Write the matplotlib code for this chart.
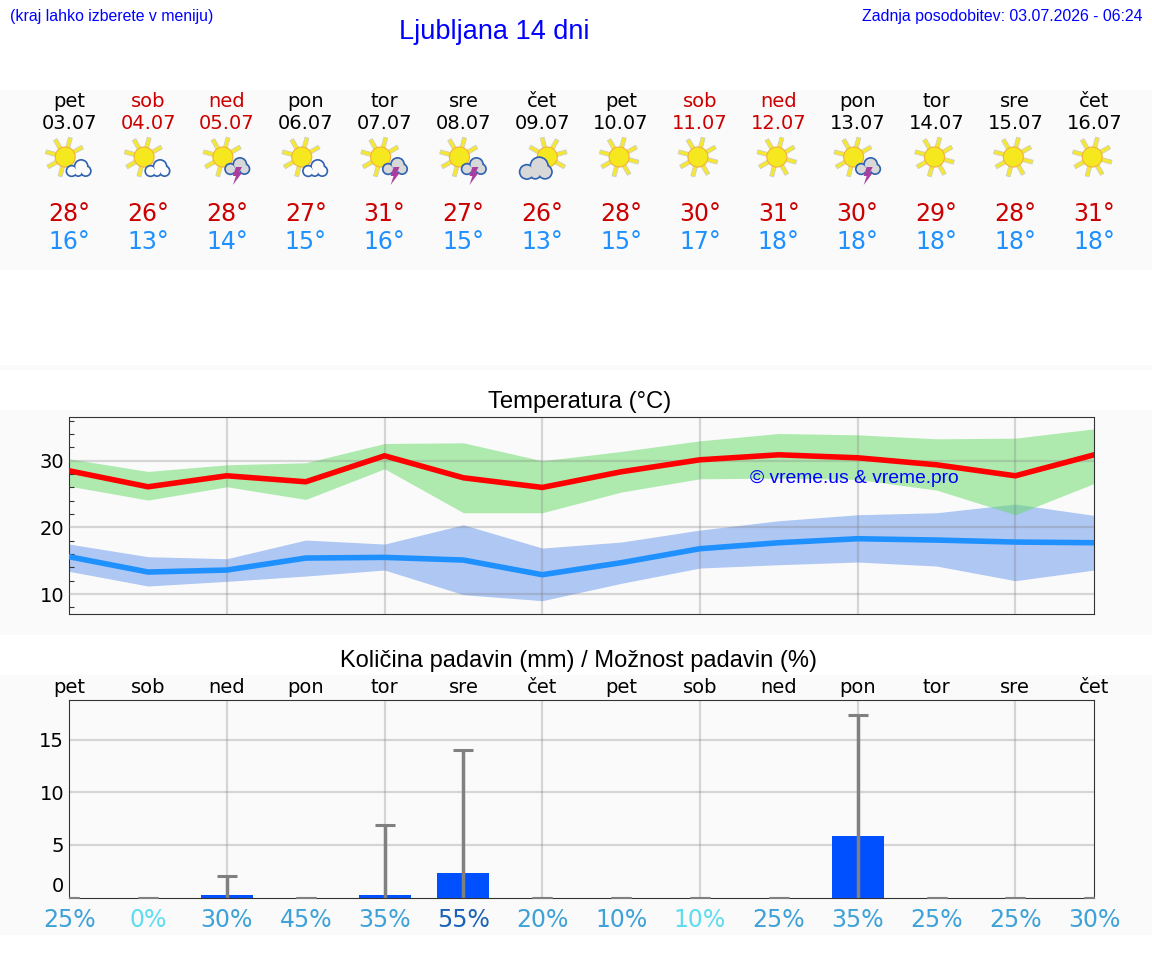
import matplotlib
matplotlib.use('Agg')
import matplotlib.pyplot as plt
from matplotlib.patches import Circle, Polygon, Rectangle
import numpy as np

W, H = 1152, 975

days = ['pet', 'sob', 'ned', 'pon', 'tor', 'sre', 'čet', 'pet', 'sob', 'ned', 'pon', 'tor', 'sre', 'čet']
dates = ['03.07', '04.07', '05.07', '06.07', '07.07', '08.07', '09.07',
         '10.07', '11.07', '12.07', '13.07', '14.07', '15.07', '16.07']
icons = ['partly', 'partly', 'storm', 'partly', 'storm', 'storm', 'cloudy',
         'sun', 'sun', 'sun', 'storm', 'sun', 'sun', 'sun']
high_labels = [28, 26, 28, 27, 31, 27, 26, 28, 30, 31, 30, 29, 28, 31]
low_labels = [16, 13, 14, 15, 16, 15, 13, 15, 17, 18, 18, 18, 18, 18]

t_max = [28.5, 26.1, 27.75, 26.85, 30.75, 27.45, 26.0, 28.35, 30.15, 30.9, 30.45, 29.4, 27.75, 30.9]
t_max_hi = [30.3, 28.4, 29.4, 29.7, 32.6, 32.7, 30.0, 31.4, 33.0, 34.1, 33.9, 33.3, 33.4, 34.8]
t_max_lo = [26.2, 24.1, 26.1, 24.2, 28.8, 22.2, 22.2, 25.3, 27.3, 27.4, 27.2, 25.6, 21.9, 26.6]
t_min = [15.6, 13.3, 13.6, 15.4, 15.5, 15.1, 12.9, 14.7, 16.8, 17.7, 18.3, 18.1, 17.8, 17.7]
t_min_hi = [17.5, 15.6, 15.3, 18.1, 17.5, 20.4, 16.9, 17.8, 19.6, 21.0, 21.9, 22.2, 23.5, 21.8]
t_min_lo = [13.4, 11.2, 11.9, 12.7, 13.6, 9.9, 9.0, 11.6, 13.9, 14.4, 14.8, 14.2, 12.0, 13.6]

rain = [0, 0, 0.2, 0, 0.2, 2.3, 0, 0, 0, 0, 5.9, 0, 0, 0]
rain_max = [0, 0, 2.05, 0, 6.9, 14.0, 0, 0, 0, 0, 17.4, 0, 0, 0]
chance = [25, 0, 30, 45, 35, 55, 20, 10, 10, 25, 35, 25, 25, 30]
chance_colors = ['#3ea2d8', '#5edcf0', '#3ea2d8', '#3ea2d8', '#3ea2d8', '#1a62b8', '#3ea2d8',
                 '#3ea2d8', '#5edcf0', '#3ea2d8', '#3ea2d8', '#3ea2d8', '#3ea2d8', '#3ea2d8']

AX_L, AX_R = 69.2, 1094.2
BLUE = '#0000ff'
RED = '#cc0000'
SANS = 'Liberation Sans'
FRAME = '#333333'


def px(i):
    return AX_L + i * (AX_R - AX_L) / 13


def axes_px(fig, top, bottom):
    return fig.add_axes([AX_L / W, 1 - bottom / H, (AX_R - AX_L) / W, (bottom - top) / H])


def draw_sun(ax, cx, cy, ray_angles):
    c = np.array([cx, cy])
    for a in ray_angles:
        t = np.radians(a)
        d = np.array([np.cos(t), -np.sin(t)])
        n = np.array([-d[1], d[0]])
        pts = [c + d * 9 + n * 2.0, c + d * 20 + n * 2.0, c + d * 20 - n * 2.0, c + d * 9 - n * 2.0]
        ax.add_patch(Polygon(pts, fc='#f6e830', ec='#cfcfbf', lw=0.6, zorder=3))
    ax.add_patch(Circle((cx, cy), 10, fc='#f5e81e', ec='#f2b040', lw=0.8, zorder=4))


def draw_cloud(ax, cx, cy, scale, fill):
    lobes = [(-6.5, 3, 6.2), (3, -1.5, 7.5), (7.5, 3, 6), (0, 4, 5)]
    for dx, dy, r in lobes:
        ax.add_patch(Circle((cx + dx * scale, cy + dy * scale), r * scale, fc='#2f62b0', ec='none', zorder=5))
    for dx, dy, r in lobes:
        ax.add_patch(Circle((cx + dx * scale, cy + dy * scale), r * scale - 1.7, fc=fill, ec='none', zorder=6))


def draw_bolt(ax, cx, cy):
    pts = [(cx - 1, cy - 8), (cx + 5, cy - 8), (cx + 2, cy - 2), (cx + 5, cy - 2),
           (cx - 4, cy + 10), (cx - 1, cy + 1), (cx - 4, cy + 1)]
    ax.add_patch(Polygon(pts, fc='#a83fa0', ec='none', zorder=7))


def draw_icon(ax, x, kind):
    if kind == 'sun':
        draw_sun(ax, x - 2, 157, [165, 120, 75, 30, -15, -60, -105, -150])
    elif kind == 'partly':
        draw_sun(ax, x - 4, 157, [30, 75, 120, 165, 210, 255])
        draw_cloud(ax, x + 9, 168, 1.0, '#fcfcfc')
    elif kind == 'storm':
        draw_sun(ax, x - 4, 157, [30, 75, 120, 165, 210, 255])
        draw_cloud(ax, x + 10, 166, 1.0, '#d8d8d8')
        draw_bolt(ax, x + 10, 175)
    elif kind == 'cloudy':
        draw_sun(ax, x + 5, 157, [-30, 15, 60, 105, 150])
        draw_cloud(ax, x - 7, 168, 1.3, '#d8d8d8')


fig = plt.figure(figsize=(W / 100, H / 100), dpi=100, facecolor='white')

# page layer in pixel coordinates: grey bands, header table, titles
page = fig.add_axes([0, 0, 1, 1], zorder=0)
page.set_xlim(0, W)
page.set_ylim(H, 0)
page.axis('off')
for top, bottom in [(90, 270), (365, 370), (410, 635), (675, 935)]:
    page.add_patch(Rectangle((0, top), W, bottom - top, fc='#fafafa', ec='none'))

page.text(10, 17, '(kraj lahko izberete v meniju)', color=BLUE, fontsize=11.4, family=SANS, va='center')
page.text(494, 32, 'Ljubljana 14 dni', color=BLUE, fontsize=19.5, family=SANS, ha='center', va='center')
page.text(1142, 17, 'Zadnja posodobitev: 03.07.2026 - 06:24', color=BLUE, fontsize=11.4, family=SANS,
          ha='right', va='center')

for i in range(14):
    x = px(i)
    head_col = RED if days[i] in ('sob', 'ned') else 'black'
    page.text(x, 101.5, days[i], color=head_col, fontsize=14, ha='center', va='center')
    page.text(x, 123.5, dates[i], color=head_col, fontsize=14, ha='center', va='center')
    draw_icon(page, x, icons[i])
    page.text(x, 214, f'{high_labels[i]}°', color=RED, fontsize=17, ha='center', va='center')
    page.text(x, 242, f'{low_labels[i]}°', color='#1e90ff', fontsize=17, ha='center', va='center')
    page.text(x, 687.5, days[i], color='black', fontsize=14, ha='center', va='center')
    page.text(x, 920, f'{chance[i]}%', color=chance_colors[i], fontsize=17, ha='center', va='center')

page.text(580, 402, 'Temperatura (°C)', fontsize=17.2, family=SANS, ha='center', va='center')
page.text(578, 661.5, 'Količina padavin (mm) / Možnost padavin (%)', fontsize=17, family=SANS,
          ha='center', va='center')

x_days = np.arange(14)

# temperature panel
ax = axes_px(fig, 417.5, 614)
ax.set_zorder(1)
ax.patch.set_alpha(0)
ax.fill_between(x_days, t_min_lo, t_min_hi, color='#6495ed', alpha=0.5, lw=0, zorder=1)
ax.fill_between(x_days, t_max_lo, t_max_hi, color='#63db63', alpha=0.5, lw=0, zorder=2)
ax.grid(True, color='gray', alpha=0.3, lw=1.6, zorder=3)
ax.set_axisbelow(False)
ax.plot(x_days, t_max, color='red', lw=4, zorder=4, solid_joinstyle='miter')
ax.plot(x_days, t_min, color='#1e90ff', lw=4, zorder=4, solid_joinstyle='miter')
ax.set_xlim(0, 13)
ax.set_ylim(7.0, 36.5)
ax.set_xticks(np.arange(2, 13, 2))
ax.set_yticks([10, 20, 30])
ax.set_yticks(np.arange(8, 37, 2), minor=True)
ax.tick_params(axis='x', length=0, labelbottom=False)
ax.tick_params(axis='y', which='major', length=0, labelsize=14, pad=3.7)
ax.tick_params(axis='y', which='minor', direction='in', length=3.6, width=0.8, color=FRAME)
for s in ax.spines.values():
    s.set_color(FRAME)
ax.text(750, 478.5, '© vreme.us & vreme.pro', color=BLUE, fontsize=13.9, family=SANS, va='center',
        transform=page.transData, zorder=6)

# precipitation panel
ax2 = axes_px(fig, 700, 897.5)
ax2.set_zorder(1)
ax2.patch.set_alpha(0)
ax2.grid(True, color='gray', alpha=0.3, lw=1.6)
ax2.set_axisbelow(True)
ax2.bar(x_days, rain, width=0.66, color='#0050ff', zorder=3)
_, caps, _ = ax2.errorbar(x_days, np.zeros(14), yerr=[np.zeros(14), rain_max], fmt='none', ecolor='gray',
                          elinewidth=2.5, capsize=7.2, capthick=2.2, zorder=4)
# lower caps only show on the dry days
caps[0].set_markevery([i for i, v in enumerate(rain) if v == 0])
ax2.set_xlim(0, 13)
ax2.set_ylim(0, 18.8)
ax2.set_xticks(np.arange(2, 13, 2))
ax2.set_yticks([5, 10, 15])
ax2.tick_params(axis='x', length=0, labelbottom=False)
ax2.tick_params(axis='y', length=0, labelsize=14, pad=3.7)
for s in ax2.spines.values():
    s.set_color(FRAME)
page.text(64, 887, '0', fontsize=14, ha='right', va='center')

fig.savefig('out.png', dpi=100)
